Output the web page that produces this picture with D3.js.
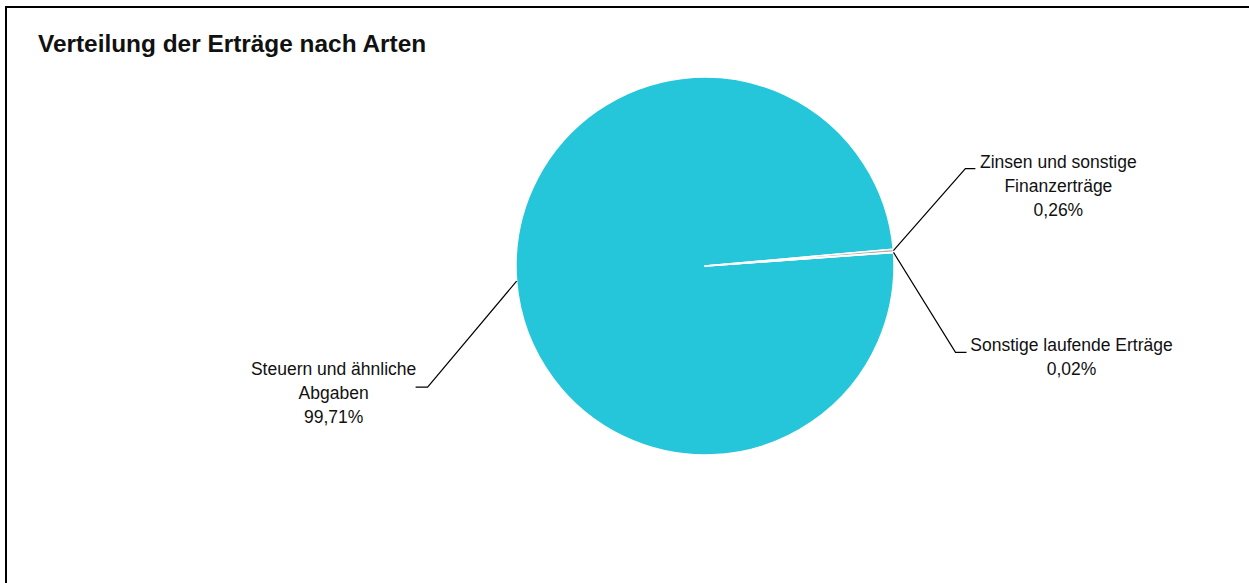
<!DOCTYPE html>
<html>
<head>
<meta charset="utf-8">
<style>
  body { margin: 0; background: #fff; }
  svg { display: block; font-family: "Liberation Sans Narrow", "Arial Narrow", "Liberation Sans", sans-serif; }
</style>
</head>
<body>
<svg id="chart" width="1249" height="583"></svg>
<script src="https://cdnjs.cloudflare.com/ajax/libs/d3/7.8.5/d3.min.js"></script>
<script>
  // data
  const categories = ["Steuern und ähnliche Abgaben", "Zinsen und sonstige Finanzerträge", "Sonstige laufende Erträge"];
  const shares = [99.71, 0.26, 0.02];
  const sliceColors = ["#26c6da", "#b5aca6", "#9e9e9e"];
  // label lines (text wrapping as in the picture)
  const labelLines = [
    ["Steuern und ähnliche", "Abgaben"],
    ["Zinsen und sonstige", "Finanzerträge"],
    ["Sonstige laufende Erträge"]
  ];

  const width = 1249, height = 583;
  const cx = 705, cy = 266, radius = 189;
  const startDeg = 85.9;

  const svg = d3.select("#chart");

  // outer frame
  svg.append("rect")
    .attr("x", 6).attr("y", 7)
    .attr("width", width + 10).attr("height", height + 10)
    .attr("fill", "none").attr("stroke", "#000").attr("stroke-width", 2);

  svg.append("text")
    .attr("x", 38).attr("y", 52)
    .attr("font-size", 24.4).attr("font-weight", "bold")
    .attr("fill", "#111")
    .text("Verteilung der Erträge nach Arten");

  const data = categories.map((c, i) => ({ name: c, value: shares[i], lines: labelLines[i], color: sliceColors[i] }));

  const pie = d3.pie()
    .value(d => d.value)
    .sort(null)
    .startAngle(startDeg * Math.PI / 180)
    .endAngle(startDeg * Math.PI / 180 + 2 * Math.PI);

  const arcs = pie(data);
  const arc = d3.arc().innerRadius(0).outerRadius(radius);

  const g = svg.append("g").attr("transform", `translate(${cx},${cy})`);

  g.selectAll("path")
    .data(arcs)
    .join("path")
    .attr("d", arc)
    .attr("fill", d => d.data.color)
    .attr("stroke", "#fff")
    .attr("stroke-width", 1.5)
    .attr("stroke-linejoin", "round");

  // leader layout: elbow offset from the arc edge, then horizontal run
  const leader = [
    { dx: -89, dy: 106, run: -12, anchorX: -82, top: -18 },
    { dx: 72, dy: -82, run: 10, anchorX: 83, top: -7 },
    { dx: 62, dy: 100, run: 11, anchorX: 105, top: -7 }
  ];
  const lineH = 24;

  const labels = svg.append("g").attr("font-size", 17.5).attr("fill", "#111");

  arcs.forEach((d, i) => {
    const a = (d.startAngle + d.endAngle) / 2;
    const ex = cx + radius * Math.sin(a);
    const ey = cy - radius * Math.cos(a);
    const L = leader[i];
    const bx = ex + L.dx, by = ey + L.dy;
    const hx = bx + L.run;

    svg.append("path")
      .attr("d", d3.line()([[ex, ey], [bx, by], [hx, by]]))
      .attr("fill", "none")
      .attr("stroke", "#000")
      .attr("stroke-width", 1.2);

    const lines = d.data.lines.concat([d3.format(".2f")(d.data.value).replace(".", ",") + "%"]);
    const tx = hx + L.anchorX;
    const firstY = by + L.top;
    const t = labels.append("text").attr("text-anchor", "middle");
    lines.forEach((s, k) => {
      t.append("tspan")
        .attr("x", tx)
        .attr("y", firstY + k * lineH + 6)
        .text(s);
    });
  });
</script>
</body>
</html>
